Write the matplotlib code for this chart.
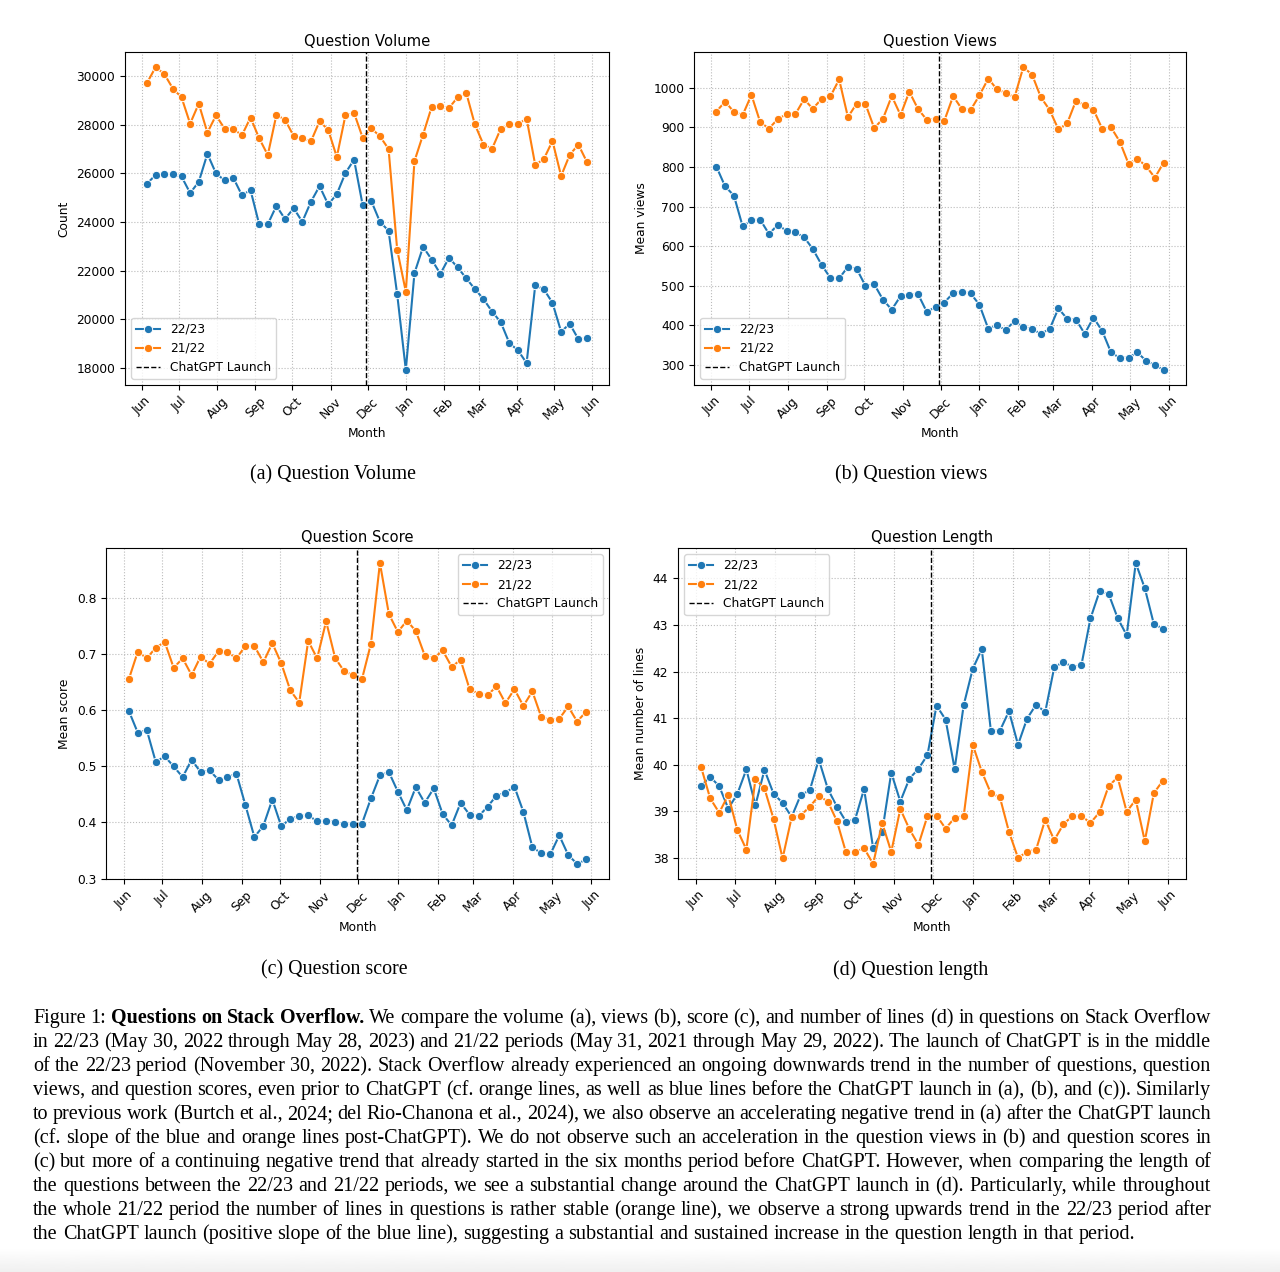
import numpy as np
import pandas as pd
import matplotlib
matplotlib.use("Agg")
import matplotlib.pyplot as plt
import matplotlib.dates as mdates

# weekly points (week ending Sunday), 21/22 series aligned onto the same weeks
weeks = pd.date_range("2022-06-05", periods=52, freq="7D")
launch = pd.Timestamp("2022-11-30")

vol_2223 = [25580, 25930, 25980, 25955, 25870, 25190, 25650, 26800, 25995, 25710,
            25820, 25100, 25310, 23910, 23910, 24665, 24120, 24570, 24010, 24830,
            25475, 24720, 25145, 26010, 26560, 24690, 24860, 24010, 23640, 21030,
            17930, 21900, 22980, 22460, 21870, 22530, 22140, 21690, 21250, 20840,
            20320, 19890, 19030, 18730, 18210, 21400, 21240, 20680, 19500, 19820,
            19190, 19220]
vol_2122 = [29710, 30360, 30080, 29480, 29120, 28040, 28860, 27670, 28380, 27830,
            27830, 27560, 28290, 27440, 26750, 28400, 28200, 27530, 27440, 27310,
            28135, 27790, 26670, 28380, 28480, 27460, 27850, 27520, 27000, 22860,
            21140, 26500, 27590, 28730, 28750, 28680, 29120, 29310, 28010, 27180,
            27010, 27830, 28010, 28010, 28250, 26340, 26590, 27330, 25890, 26760,
            27180, 26460]

views_2223 = [801, 751, 728, 650, 665, 667, 631, 654, 639, 635,
              623, 593, 553, 520, 519, 548, 543, 500, 504, 465,
              440, 474, 477, 479, 434, 447, 458, 482, 485, 481,
              452, 392, 400, 389, 411, 396, 391, 379, 391, 443,
              417, 415, 379, 420, 386, 332, 318, 319, 332, 311,
              300, 288]
views_2122 = [940, 965, 939, 931, 982, 913, 897, 921, 933, 933,
              971, 947, 972, 978, 1021, 926, 960, 959, 898, 922,
              979, 931, 990, 946, 919, 922, 917, 979, 946, 944,
              981, 1023, 996, 987, 976, 1052, 1033, 976, 944, 895,
              910, 967, 956, 945, 896, 900, 864, 808, 821, 802,
              773, 811]

score_2223 = [0.599, 0.560, 0.565, 0.508, 0.518, 0.500, 0.481, 0.512, 0.490, 0.493,
              0.476, 0.481, 0.487, 0.431, 0.374, 0.394, 0.441, 0.393, 0.407, 0.411,
              0.413, 0.402, 0.403, 0.401, 0.397, 0.398, 0.398, 0.443, 0.484, 0.490,
              0.455, 0.422, 0.463, 0.435, 0.461, 0.415, 0.395, 0.435, 0.414, 0.411,
              0.428, 0.448, 0.453, 0.464, 0.419, 0.356, 0.345, 0.343, 0.377, 0.342,
              0.326, 0.334]
score_2122 = [0.656, 0.705, 0.693, 0.712, 0.722, 0.676, 0.693, 0.663, 0.696, 0.683,
              0.706, 0.704, 0.693, 0.715, 0.715, 0.686, 0.720, 0.684, 0.636, 0.614,
              0.724, 0.693, 0.759, 0.694, 0.670, 0.663, 0.656, 0.719, 0.863, 0.772,
              0.740, 0.760, 0.742, 0.698, 0.693, 0.707, 0.678, 0.690, 0.638, 0.630,
              0.627, 0.643, 0.613, 0.638, 0.608, 0.634, 0.588, 0.583, 0.585, 0.607,
              0.580, 0.598]

len_2223 = [39.55, 39.74, 39.54, 39.06, 39.37, 39.90, 39.13, 39.89, 39.38, 39.18,
            38.88, 39.35, 39.45, 40.11, 39.48, 39.10, 38.78, 38.82, 39.48, 38.21,
            38.56, 39.83, 39.21, 39.70, 39.91, 40.21, 41.27, 40.97, 39.91, 41.28,
            42.06, 42.48, 40.73, 40.73, 41.15, 40.43, 40.99, 41.29, 41.13, 42.09,
            42.21, 42.10, 42.14, 43.14, 43.72, 43.67, 43.15, 42.78, 44.33, 43.79,
            43.02, 42.92]
len_2122 = [39.95, 39.28, 38.97, 39.35, 38.60, 38.18, 39.69, 39.49, 38.84, 37.99,
            38.87, 38.91, 39.10, 39.33, 39.21, 38.79, 38.12, 38.13, 38.21, 37.87,
            38.75, 38.13, 39.05, 38.62, 38.28, 38.90, 38.91, 38.63, 38.86, 38.90,
            40.43, 39.85, 39.39, 39.30, 38.56, 38.00, 38.13, 38.18, 38.82, 38.38,
            38.72, 38.90, 38.90, 38.75, 38.98, 39.54, 39.73, 38.99, 39.25, 38.36,
            39.39, 39.66]

caption_lines = [
    "Figure 1: |Questions on Stack Overflow.| We compare the volume (a), views (b), score (c), and number of lines (d) in questions on Stack Overflow",
    "in 22/23 (May 30, 2022 through May 28, 2023) and 21/22 periods (May 31, 2021 through May 29, 2022). The launch of ChatGPT is in the middle",
    "of the 22/23 period (November 30, 2022). Stack Overflow already experienced an ongoing downwards trend in the number of questions, question",
    "views, and question scores, even prior to ChatGPT (cf. orange lines, as well as blue lines before the ChatGPT launch in (a), (b), and (c)). Similarly",
    "to previous work (Burtch et al., 2024; del Rio-Chanona et al., 2024), we also observe an accelerating negative trend in (a) after the ChatGPT launch",
    "(cf. slope of the blue and orange lines post-ChatGPT). We do not observe such an acceleration in the question views in (b) and question scores in",
    "(c) but more of a continuing negative trend that already started in the six months period before ChatGPT. However, when comparing the length of",
    "the questions between the 22/23 and 21/22 periods, we see a substantial change around the ChatGPT launch in (d). Particularly, while throughout",
    "the whole 21/22 period the number of lines in questions is rather stable (orange line), we observe a strong upwards trend in the 22/23 period after",
    "the ChatGPT launch (positive slope of the blue line), suggesting a substantial and sustained increase in the question length in that period.",
]

W, H = 1280, 1272
fig = plt.figure(figsize=(W / 100, H / 100), dpi=100)
fig.patch.set_facecolor("white")

def px_axes(l, t, r, b):
    return fig.add_axes([l / W, 1 - b / H, (r - l) / W, (b - t) / H])

blue, orange = "#1f77b4", "#ff7f0e"
fs = 8.8
serif = "Liberation Serif"

def panel(ax, y1, y2, title, ylabel, loc):
    ax.plot(weeks, y1, color=blue, marker="o", ms=6, mec="white", mew=0.7,
            lw=1.5, label="22/23")
    ax.plot(weeks, y2, color=orange, marker="o", ms=6, mec="white", mew=0.7,
            lw=1.5, label="21/22")
    ax.axvline(launch, color="black", ls="--", lw=1.0, label="ChatGPT Launch")
    ax.xaxis.set_major_locator(mdates.MonthLocator())
    ax.xaxis.set_major_formatter(mdates.DateFormatter("%b"))
    ax.tick_params(labelsize=fs)
    for lab in ax.get_xticklabels():
        lab.set_rotation(45)
    ax.grid(True, ls=":", color="#bbbbbb", lw=0.8)
    ax.set_title(title, fontsize=10.6, pad=4.5)
    ax.set_xlabel("Month", fontsize=fs)
    ax.set_ylabel(ylabel, fontsize=fs)
    ax.legend(loc=loc, fontsize=fs)

ax_a = px_axes(125, 52, 609, 385)
panel(ax_a, vol_2223, vol_2122, "Question Volume", "Count", "lower left")
ax_b = px_axes(694, 52, 1186, 385)
panel(ax_b, views_2223, views_2122, "Question Views", "Mean views", "lower left")
ax_c = px_axes(106, 548, 609, 879)
panel(ax_c, score_2223, score_2122, "Question Score", "Mean score", "upper right")
ax_d = px_axes(678, 548, 1186, 879)
panel(ax_d, len_2223, len_2122, "Question Length", "Mean number of lines", "upper left")

# sub-captions
subcaps = [("(a) Question Volume", 333, 475), ("(b) Question views", 911, 475),
           ("(c) Question score", 334, 970), ("(d) Question length", 911, 970)]
for txt, x, y in subcaps:
    fig.text(x / W, 1 - y / H, txt, ha="center", va="center", fontsize=14.4, family=serif)

# justified figure caption
renderer = fig.canvas.get_renderer()
cap_fs = 14.5

def text_width(s, bold=False):
    t = fig.text(0, 0, s, fontsize=cap_fs, family=serif,
                 weight="bold" if bold else "normal")
    w = t.get_window_extent(renderer).width
    t.remove()
    return w

space_w = text_width("a a") - text_width("aa")
x_left, x_right = 33, 1211
for i, line in enumerate(caption_lines):
    words = []
    for k, seg in enumerate(line.split("|")):
        for w in seg.split():
            words.append((w, k % 2 == 1))
    widths = [text_width(w, b) for w, b in words]
    if i < len(caption_lines) - 1:
        gap = (x_right - x_left - sum(widths)) / (len(words) - 1)
    else:
        gap = space_w
    y = 1023 + 24 * i
    x = x_left
    for (w, b), wd in zip(words, widths):
        fig.text(x / W, 1 - y / H, w, fontsize=cap_fs, family=serif,
                 weight="bold" if b else "normal", ha="left", va="baseline")
        x += wd + gap

# faint grey band at the bottom edge
ax_bg = fig.add_axes([0, 0, 1, 24 / H], zorder=-1)
grad = np.linspace(0.94, 1.0, 40)[:, None]
ax_bg.imshow(grad, cmap="gray", vmin=0, vmax=1, aspect="auto",
             extent=[0, 1, 0, 1], origin="lower")
ax_bg.axis("off")

fig.savefig("out.png", dpi=100)
